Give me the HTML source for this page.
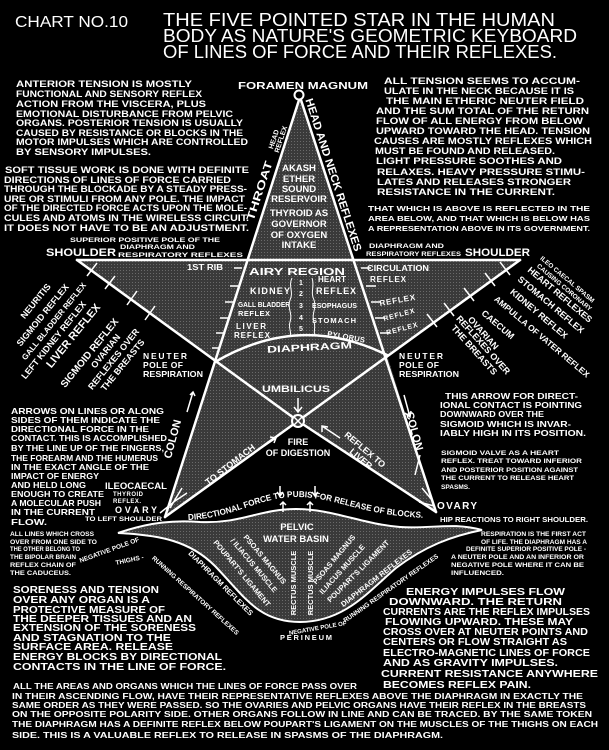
<!DOCTYPE html>
<html><head><meta charset="utf-8"><style>
html,body{margin:0;padding:0;background:#000;}
svg{display:block;}
text{fill:#fff;font-family:"Liberation Sans",sans-serif;font-weight:bold;}
.t{font-weight:normal;}
</style></head><body>
<svg width="609" height="750" viewBox="0 0 609 750" xmlns="http://www.w3.org/2000/svg">
<rect width="609" height="750" fill="#000"/>
<defs>
<pattern id="h" width="3" height="3" patternUnits="userSpaceOnUse"><rect width="3" height="3" fill="#3a3a3a"/><rect width="1" height="1" fill="#6a6a6a"/></pattern>
<path id="df" d="M188,520 C235,518 258,497 297,497 C336,497 362,516 428,518"/>
</defs>

<!-- Title -->
<text class="t" x="15" y="27" font-size="16" textLength="113" lengthAdjust="spacingAndGlyphs">CHART NO.10</text>
<text class="t" x="163" y="26" font-size="18" textLength="392" lengthAdjust="spacingAndGlyphs">THE FIVE POINTED STAR IN THE HUMAN</text>
<text class="t" x="163" y="42" font-size="18" textLength="414" lengthAdjust="spacingAndGlyphs">BODY AS NATURE'S GEOMETRIC KEYBOARD</text>
<text class="t" x="163" y="58" font-size="18" textLength="394" lengthAdjust="spacingAndGlyphs">OF LINES OF FORCE AND THEIR REFLEXES.</text>

<!-- Star fill -->
<polygon points="300,100 355,261 520,260 387,355 436,512 298,421 165,517 215,362 77,260 248,261" fill="url(#h)"/>
<!-- pelvic basin -->
<path d="M118,533 C150,522 175,520 200,522 C240,524 260,509 296,509 C332,509 362,524 400,527 C432,529 452,522 482,530 C452,536 425,546 396,568 C370,590 345,622 300,622 C258,622 244,596 215,566 C190,541 160,535 118,533 Z" fill="url(#h)" stroke="#fff" stroke-width="2"/>

<g stroke="#fff" stroke-width="2.5" fill="none" stroke-linecap="round">
<line x1="299" y1="100" x2="165" y2="517"/>
<line x1="301" y1="100" x2="436" y2="512"/>
<line x1="77" y1="260" x2="520" y2="260"/>
<polyline points="77,260 298,421 436,512"/>
<polyline points="520,260 298,421 165,517"/>
<path d="M215,362 Q300,312 387,355"/>
<circle cx="299" cy="95" r="4.5" stroke-width="2" fill="#000"/>
<circle cx="298" cy="421" r="6" stroke-width="2" fill="#3a3a3a"/>
<line x1="294" y1="417" x2="302" y2="425" stroke-width="1.5"/>
<line x1="302" y1="417" x2="294" y2="425" stroke-width="1.5"/>
</g>
<!-- ticks -->
<g stroke="#fff" stroke-width="1.5">
<line x1="87" y1="276" x2="97" y2="263"/><line x1="105" y1="289" x2="115" y2="276"/>
<line x1="127" y1="305" x2="137" y2="291"/><line x1="145" y1="320" x2="155" y2="306"/>
<line x1="500" y1="262" x2="510" y2="275"/><line x1="485" y1="273" x2="495" y2="286"/>
<line x1="464" y1="288" x2="474" y2="301"/><line x1="444" y1="303" x2="454" y2="316"/>
<line x1="427" y1="314" x2="437" y2="327"/>
<path d="M242,268 h-8 M238,286 h-8 M233,302 h-8 M228,318 h-8 M224,333 h-8 M220,348 h-8" />
<path d="M361,268 h10 M366,286 h10 M371,302 h10 M375,318 h10 M380,333 h10" />
<path d="M292,278 c-4,8 2,14 -2,22 c-3,8 3,14 0,22 c-2,6 2,10 0,14 M312,278 c3,8 -2,14 2,22 c3,8 -3,14 0,22 c2,6 -1,10 1,14" fill="none" stroke-width="1"/>
</g>
<!-- arrows -->
<g stroke="#fff" stroke-width="1.5" fill="none">
<path d="M298,398 v14 M294,407 l4,5 4,-5"/>
<path d="M187,412 l6,-20 M190,395 l3,-3 2,4"/>
<path d="M404,395 l6,22 M405,413 l5,4 1,-6"/>
<path d="M258,450 l18,-12 M270,437 l6,1 -2,5"/>
<path d="M340,438 l-18,-12 M322,432 l0,-6 6,1"/>
<path d="M280,486 v10 M277,492 l3,4 3,-4 M315,486 v10 M312,492 l3,4 3,-4"/>
<path d="M283,512 v-10 M280,505 l3,-3 3,3 M310,512 v-10 M307,505 l3,-3 3,3"/>
<path d="M420,455 l-5,20"/>
<path d="M160,513 l15,-12 M170,508 l12,-20 M175,501 l12,-8"/>
<path d="M432,500 l-10,-12 M434,506 l-15,-4"/>
</g>

<!-- Left paragraph 1 -->
<g font-size="9.5">
<text x="16" y="87" textLength="176" lengthAdjust="spacingAndGlyphs">ANTERIOR TENSION IS MOSTLY</text>
<text x="16" y="97" textLength="186" lengthAdjust="spacingAndGlyphs">FUNCTIONAL AND SENSORY REFLEX</text>
<text x="16" y="107" textLength="190" lengthAdjust="spacingAndGlyphs">ACTION FROM THE VISCERA, PLUS</text>
<text x="16" y="117" textLength="217" lengthAdjust="spacingAndGlyphs">EMOTIONAL DISTURBANCE FROM PELVIC</text>
<text x="16" y="126" textLength="227" lengthAdjust="spacingAndGlyphs">ORGANS. POSTERIOR TENSION IS USUALLY</text>
<text x="16" y="136" textLength="227" lengthAdjust="spacingAndGlyphs">CAUSED BY RESISTANCE OR BLOCKS IN THE</text>
<text x="16" y="145" textLength="232" lengthAdjust="spacingAndGlyphs">MOTOR IMPULSES WHICH ARE CONTROLLED</text>
<text x="16" y="155" textLength="135" lengthAdjust="spacingAndGlyphs">BY SENSORY IMPULSES.</text>

<text x="5" y="173" textLength="244" lengthAdjust="spacingAndGlyphs">SOFT TISSUE WORK IS DONE WITH DEFINITE</text>
<text x="4" y="183" textLength="227" lengthAdjust="spacingAndGlyphs">DIRECTIONS OF LINES OF FORCE CARRIED</text>
<text x="4" y="192" textLength="243" lengthAdjust="spacingAndGlyphs">THROUGH THE BLOCKADE BY A STEADY PRESS-</text>
<text x="4" y="202" textLength="241" lengthAdjust="spacingAndGlyphs">URE OR STIMULI FROM ANY POLE. THE IMPACT</text>
<text x="4" y="211" textLength="243" lengthAdjust="spacingAndGlyphs">OF THE DIRECTED FORCE ACTS UPON THE MOLE-</text>
<text x="4" y="221" textLength="245" lengthAdjust="spacingAndGlyphs">CULES AND ATOMS IN THE WIRELESS CIRCUIT.</text>
<text x="4" y="231" textLength="245" lengthAdjust="spacingAndGlyphs">IT DOES NOT HAVE TO BE AN ADJUSTMENT.</text>
</g>

<!-- Right paragraph -->
<g font-size="9.5">
<text x="384" y="84" textLength="196" lengthAdjust="spacingAndGlyphs">ALL TENSION SEEMS TO ACCUM-</text>
<text x="384" y="94" textLength="190" lengthAdjust="spacingAndGlyphs">ULATE IN THE NECK BECAUSE IT IS</text>
<text x="386" y="104" textLength="198" lengthAdjust="spacingAndGlyphs">THE MAIN ETHERIC NEUTER FIELD</text>
<text x="376" y="114" textLength="213" lengthAdjust="spacingAndGlyphs">AND THE SUM TOTAL OF THE RETURN</text>
<text x="376" y="124" textLength="207" lengthAdjust="spacingAndGlyphs">FLOW OF ALL ENERGY FROM BELOW</text>
<text x="376" y="134" textLength="214" lengthAdjust="spacingAndGlyphs">UPWARD TOWARD THE HEAD. TENSION</text>
<text x="374" y="144" textLength="218" lengthAdjust="spacingAndGlyphs">CAUSES ARE MOSTLY REFLEXES WHICH</text>
<text x="375" y="154" textLength="180" lengthAdjust="spacingAndGlyphs">MUST BE FOUND AND RELEASED.</text>
<text x="376" y="164" textLength="186" lengthAdjust="spacingAndGlyphs">LIGHT PRESSURE SOOTHES AND</text>
<text x="377" y="175" textLength="208" lengthAdjust="spacingAndGlyphs">RELAXES. HEAVY PRESSURE STIMU-</text>
<text x="377" y="185" textLength="194" lengthAdjust="spacingAndGlyphs">LATES AND RELEASES STRONGER</text>
<text x="377" y="195" textLength="178" lengthAdjust="spacingAndGlyphs">RESISTANCE IN THE CURRENT.</text>
</g>
<g font-size="7.5">
<text x="368" y="211" textLength="222" lengthAdjust="spacingAndGlyphs">THAT WHICH IS ABOVE IS REFLECTED IN THE</text>
<text x="368" y="221" textLength="222" lengthAdjust="spacingAndGlyphs">AREA BELOW, AND THAT WHICH IS BELOW HAS</text>
<text x="368" y="231" textLength="222" lengthAdjust="spacingAndGlyphs">A REPRESENTATION ABOVE IN ITS GOVERNMENT.</text>
</g>

<!-- head triangle -->
<text x="238" y="89" font-size="10" textLength="130" lengthAdjust="spacingAndGlyphs">FORAMEN MAGNUM</text>
<g font-size="9.5" text-anchor="middle">
<text x="299" y="171">AKASH</text><text x="299" y="182">ETHER</text><text x="299" y="192">SOUND</text><text x="299" y="202">RESERVOIR</text>
<text x="299" y="216">THYROID AS</text><text x="299" y="227">GOVERNOR</text><text x="299" y="238">OF OXYGEN</text><text x="299" y="248">INTAKE</text>
</g>
<g font-size="7" text-anchor="middle">
<text transform="translate(276,140) rotate(-72)">HEAD</text>
<text transform="translate(283,140) rotate(-72)">REFLEX</text>
</g>
<text transform="translate(263,192) rotate(-72)" font-size="11" text-anchor="middle" textLength="62" lengthAdjust="spacingAndGlyphs">THROAT</text>
<text transform="translate(330,176) rotate(72)" font-size="11" text-anchor="middle" textLength="160" lengthAdjust="spacingAndGlyphs">HEAD AND NECK REFLEXES</text>

<!-- shoulder area labels -->
<g font-size="6.5">
<text x="70" y="242" textLength="150" lengthAdjust="spacingAndGlyphs">SUPERIOR POSITIVE POLE OF THE</text>
<text x="120" y="249" textLength="75" lengthAdjust="spacingAndGlyphs">DIAPHRAGM AND</text>
<text x="118" y="257" textLength="125" lengthAdjust="spacingAndGlyphs">RESPIRATORY REFLEXES</text>
<text x="369" y="248" textLength="75" lengthAdjust="spacingAndGlyphs">DIAPHRAGM AND</text>
<text x="366" y="256" textLength="95" lengthAdjust="spacingAndGlyphs">RESPIRATORY REFLEXES</text>
</g>
<text x="46" y="256" font-size="11" textLength="70" lengthAdjust="spacingAndGlyphs">SHOULDER</text>
<text x="465" y="256" font-size="11" textLength="65" lengthAdjust="spacingAndGlyphs">SHOULDER</text>

<!-- inner chest labels -->
<g font-size="8">
<text x="187" y="270" textLength="36" lengthAdjust="spacingAndGlyphs">1ST RIB</text>
<text x="249" y="275" font-size="10" textLength="96" lengthAdjust="spacingAndGlyphs">AIRY REGION</text>
<text x="318" y="282" textLength="28">HEART</text>
<text x="250" y="294" font-size="9" textLength="40">KIDNEY</text>
<text x="316" y="294" font-size="9" textLength="40">REFLEX</text>
<text x="238" y="307" font-size="7" textLength="52" lengthAdjust="spacingAndGlyphs">GALL BLADDER</text>
<text x="238" y="316" font-size="7.5" textLength="32">REFLEX</text>
<text x="312" y="308" font-size="7" textLength="45" lengthAdjust="spacingAndGlyphs">ESOPHAGUS</text>
<text x="312" y="323" font-size="7.5" textLength="44">STOMACH</text>
<text x="236" y="329" textLength="30">LIVER</text>
<text x="234" y="338" textLength="36">REFLEX</text>
<text x="327" y="336" font-size="7.5" transform="rotate(10,327,336)" textLength="38">PYLORUS</text>
<text x="367" y="271" textLength="62" lengthAdjust="spacingAndGlyphs">CIRCULATION</text>
<text x="370" y="282" textLength="36">REFLEX</text>
<text x="380" y="306" transform="rotate(-10,380,306)" textLength="36">REFLEX</text>
<text x="384" y="321" transform="rotate(-15,384,321)" font-size="7" textLength="32">REFLEX</text>
<text x="387" y="335" transform="rotate(-15,387,335)" font-size="7" textLength="32">REFLEX</text>
</g>
<g font-size="7" text-anchor="middle"><text x="301" y="285">1</text><text x="301" y="296">2</text><text x="301" y="308">3</text><text x="301" y="320">4</text><text x="301" y="331">5</text></g>
<text x="267" y="351" font-size="9.5" transform="rotate(-3,300,348)" textLength="85" lengthAdjust="spacingAndGlyphs">DIAPHRAGM</text>

<g font-size="8.5">
<text x="143" y="359" textLength="44">NEUTER</text>
<text x="143" y="368" textLength="40">POLE OF</text>
<text x="143" y="377" textLength="60" lengthAdjust="spacingAndGlyphs">RESPIRATION</text>
<text x="399" y="359" textLength="44">NEUTER</text>
<text x="399" y="368" textLength="40">POLE OF</text>
<text x="399" y="377" textLength="60" lengthAdjust="spacingAndGlyphs">RESPIRATION</text>
</g>
<text x="262" y="392" font-size="9" textLength="68" lengthAdjust="spacingAndGlyphs">UMBILICUS</text>
<g font-size="9" text-anchor="middle"><text x="298" y="445">FIRE</text><text x="298" y="456">OF DIGESTION</text></g>
<text transform="translate(176,440) rotate(-75)" font-size="11" text-anchor="middle">COLON</text>
<text transform="translate(411,432) rotate(75)" font-size="11" text-anchor="middle">COLON</text>
<text transform="translate(232,467) rotate(-38)" font-size="9" text-anchor="middle">TO STOMACH</text>
<g font-size="9" text-anchor="middle">
<text transform="translate(363,452) rotate(40)">REFLEX TO</text>
<text transform="translate(359,461) rotate(40)">LIVER</text>
</g>

<!-- left arm labels -->
<g text-anchor="middle" font-size="9">
<text transform="translate(38,303) rotate(-51)">NEURITIS</text>
<text transform="translate(45,317) rotate(-51)">SIGMOID REFLEX</text>
<text transform="translate(56,323) rotate(-51)" font-size="8">GALL BLADDER REFLEX</text>
<text transform="translate(56,342) rotate(-51)">LEFT KIDNEY REFLEX</text>
<text transform="translate(76,338) rotate(-51)" font-size="11">LIVER REFLEX</text>
<text transform="translate(92,355) rotate(-51)" font-size="10">SIGMOID REFLEX</text>
<text transform="translate(108,353) rotate(-51)">OVARIAN</text>
<text transform="translate(116,361) rotate(-51)">REFLEXES OVER</text>
<text transform="translate(125,367) rotate(-51)">THE BREASTS</text>
</g>
<!-- right arm labels -->
<g text-anchor="middle" font-size="9">
<text transform="translate(566,281) rotate(40)" font-size="6.5">ILEO CAECAL SPASM</text>
<text transform="translate(563,289) rotate(40)" font-size="6.5">CAUSING CORONARY</text>
<text transform="translate(558,297) rotate(40)">HEART REFLEXES</text>
<text transform="translate(549,307) rotate(40)">STOMACH REFLEX</text>
<text transform="translate(537,316) rotate(40)">KIDNEY REFLEX</text>
<text transform="translate(540,339) rotate(40)" font-size="8.5">AMPULLA OF VATER REFLEX</text>
<text transform="translate(496,327) rotate(40)">CAECUM</text>
<text transform="translate(481,335) rotate(48)">OVARIAN</text>
<text transform="translate(481,347) rotate(48)">REFLEXES OVER</text>
<text transform="translate(472,352) rotate(48)">THE BREASTS</text>
</g>

<!-- left middle text -->
<g font-size="8.5">
<text x="11" y="414" textLength="153" lengthAdjust="spacingAndGlyphs">ARROWS ON LINES OR ALONG</text>
<text x="11" y="423" textLength="149" lengthAdjust="spacingAndGlyphs">SIDES OF THEM INDICATE THE</text>
<text x="11" y="432" textLength="138" lengthAdjust="spacingAndGlyphs">DIRECTIONAL FORCE IN THE</text>
<text x="11" y="441" textLength="156" lengthAdjust="spacingAndGlyphs">CONTACT. THIS IS ACCOMPLISHED</text>
<text x="11" y="451" textLength="153" lengthAdjust="spacingAndGlyphs">BY THE LINE UP OF THE FINGERS,</text>
<text x="11" y="461" textLength="147" lengthAdjust="spacingAndGlyphs">THE FOREARM AND THE HUMERUS</text>
<text x="11" y="470" textLength="138" lengthAdjust="spacingAndGlyphs">IN THE EXACT ANGLE OF THE</text>
<text x="11" y="479" textLength="88" lengthAdjust="spacingAndGlyphs">IMPACT OF ENERGY</text>
<text x="11" y="488" textLength="75" lengthAdjust="spacingAndGlyphs">AND HELD LONG</text>
<text x="11" y="497" textLength="93" lengthAdjust="spacingAndGlyphs">ENOUGH TO CREATE</text>
<text x="11" y="506" textLength="90" lengthAdjust="spacingAndGlyphs">A MOLECULAR PUSH</text>
<text x="11" y="515" textLength="84" lengthAdjust="spacingAndGlyphs">IN THE CURRENT</text>
<text x="11" y="525" textLength="36" lengthAdjust="spacingAndGlyphs">FLOW.</text>
</g>
<text x="105" y="489" font-size="9" textLength="62" lengthAdjust="spacingAndGlyphs">ILEOCAECAL</text>
<text x="113" y="496" font-size="6" textLength="30">THYROID</text>
<text x="113" y="503" font-size="6" textLength="28">REFLEX.</text>
<text x="115" y="513" font-size="9" textLength="42">OVARY</text>
<text x="85" y="521" font-size="6.5" textLength="77" lengthAdjust="spacingAndGlyphs">TO LEFT SHOULDER</text>

<!-- right middle text -->
<g font-size="8">
<text x="445" y="399" textLength="133" lengthAdjust="spacingAndGlyphs">THIS ARROW FOR DIRECT-</text>
<text x="440" y="408" textLength="142" lengthAdjust="spacingAndGlyphs">IONAL CONTACT IS POINTING</text>
<text x="440" y="417" textLength="104" lengthAdjust="spacingAndGlyphs">DOWNWARD OVER THE</text>
<text x="440" y="427" textLength="131" lengthAdjust="spacingAndGlyphs">SIGMOID WHICH IS INVAR-</text>
<text x="440" y="436" textLength="146" lengthAdjust="spacingAndGlyphs">IABLY HIGH IN ITS POSITION.</text>
</g>
<g font-size="6.8">
<text x="441" y="455" textLength="118" lengthAdjust="spacingAndGlyphs">SIGMOID VALVE AS A HEART</text>
<text x="441" y="463" textLength="141" lengthAdjust="spacingAndGlyphs">REFLEX. TREAT TOWARD INFERIOR</text>
<text x="441" y="472" textLength="137" lengthAdjust="spacingAndGlyphs">AND POSTERIOR POSITION AGAINST</text>
<text x="441" y="480" textLength="133" lengthAdjust="spacingAndGlyphs">THE CURRENT TO RELEASE HEART</text>
<text x="441" y="489" textLength="29" lengthAdjust="spacingAndGlyphs">SPASMS.</text>
</g>
<text x="437" y="509" font-size="10" textLength="40">OVARY</text>
<text x="440" y="522" font-size="7.5" textLength="148" lengthAdjust="spacingAndGlyphs">HIP REACTIONS TO RIGHT SHOULDER.</text>

<!-- basin labels -->
<text font-size="8.5"><textPath href="#df" textLength="240" lengthAdjust="spacingAndGlyphs">DIRECTIONAL FORCE TO PUBIS FOR RELEASE OF BLOCKS.</textPath></text>
<g font-size="9.5" text-anchor="middle"><text x="297" y="530">PELVIC</text><text x="296" y="542">WATER BASIN</text></g>
<g font-size="7.5" text-anchor="middle">
<text transform="translate(296,583) rotate(-90)">RECTUS MUSCLE</text>
<text transform="translate(313,583) rotate(-90)">RECTUS MUSCLE</text>
<text transform="translate(263,561) rotate(50)">PSOAS MAGNUS</text>
<text transform="translate(252,567) rotate(50)">/ ILIACUS MUSCLE</text>
<text transform="translate(240,575) rotate(50)">POUPART'S LIGAMENT</text>
<text transform="translate(219,585) rotate(45)">DIAPHRAGM REFLEXES</text>
<text transform="translate(194,597) rotate(42)" font-size="6.5">RUNNING RESPIRATORY REFLEXES</text>
<text transform="translate(336,561) rotate(-50)">PSOAS MAGNUS</text>
<text transform="translate(344,571) rotate(-48)">ILIACUS MUSCLE</text>
<text transform="translate(360,573) rotate(-45)">POUPART'S LIGAMENT</text>
<text transform="translate(378,580) rotate(-38)">DIAPHRAGM REFLEXES</text>
<text transform="translate(392,590) rotate(-35)" font-size="6.5">RUNNING RESPIRATORY REFLEXES</text>
<text transform="translate(110,552) rotate(-20)" font-size="6.5">NEGATIVE POLE OF</text>
<text transform="translate(130,562) rotate(-12)" font-size="6.5">THIGHS -</text>
<text transform="translate(318,630) rotate(-10)" font-size="6">NEGATIVE POLE OF</text>
</g>
<text x="280" y="640" font-size="7.5" textLength="52">PERINEUM</text>

<!-- small text blocks -->
<g font-size="6">
<text x="10" y="536" textLength="84" lengthAdjust="spacingAndGlyphs">ALL LINES WHICH CROSS</text>
<text x="10" y="544" textLength="87" lengthAdjust="spacingAndGlyphs">OVER FROM ONE SIDE TO</text>
<text x="10" y="551" textLength="70" lengthAdjust="spacingAndGlyphs">THE OTHER BELONG TO</text>
<text x="10" y="559" textLength="66" lengthAdjust="spacingAndGlyphs">THE BIPOLAR BRAIN</text>
<text x="10" y="567" textLength="66" lengthAdjust="spacingAndGlyphs">REFLEX CHAIN OF</text>
<text x="10" y="575" textLength="61" lengthAdjust="spacingAndGlyphs">THE CADUCEUS.</text>
<text x="481" y="536" textLength="105" lengthAdjust="spacingAndGlyphs">RESPIRATION IS THE FIRST ACT</text>
<text x="481" y="544" textLength="106" lengthAdjust="spacingAndGlyphs">OF LIFE. THE DIAPHRAGM HAS A</text>
<text x="466" y="551" textLength="120" lengthAdjust="spacingAndGlyphs">DEFINITE SUPERIOR POSITIVE POLE -</text>
<text x="451" y="559" textLength="133" lengthAdjust="spacingAndGlyphs">A NEUTER POLE AND AN INFERIOR OR</text>
<text x="451" y="567" textLength="133" lengthAdjust="spacingAndGlyphs">NEGATIVE POLE WHERE IT CAN BE</text>
<text x="451" y="575" textLength="53" lengthAdjust="spacingAndGlyphs">INFLUENCED.</text>
</g>

<g font-size="10.5" class="t">
<text x="13" y="593" textLength="146" lengthAdjust="spacingAndGlyphs">SORENESS AND TENSION</text>
<text x="13" y="603" textLength="137" lengthAdjust="spacingAndGlyphs">OVER ANY ORGAN IS A</text>
<text x="13" y="613" textLength="152" lengthAdjust="spacingAndGlyphs">PROTECTIVE MEASURE OF</text>
<text x="13" y="622" textLength="179" lengthAdjust="spacingAndGlyphs">THE DEEPER TISSUES AND AN</text>
<text x="13" y="631" textLength="183" lengthAdjust="spacingAndGlyphs">EXTENSION OF THE SORENESS</text>
<text x="13" y="641" textLength="158" lengthAdjust="spacingAndGlyphs">AND STAGNATION TO THE</text>
<text x="13" y="650" textLength="160" lengthAdjust="spacingAndGlyphs">SURFACE AREA. RELEASE</text>
<text x="13" y="660" textLength="209" lengthAdjust="spacingAndGlyphs">ENERGY BLOCKS BY DIRECTIONAL</text>
<text x="13" y="670" textLength="213" lengthAdjust="spacingAndGlyphs">CONTACTS IN THE LINE OF FORCE.</text>
</g>
<g font-size="10.5" class="t">
<text x="406" y="595" textLength="159" lengthAdjust="spacingAndGlyphs">ENERGY IMPULSES FLOW</text>
<text x="389" y="605" textLength="173" lengthAdjust="spacingAndGlyphs">DOWNWARD. THE RETURN</text>
<text x="383" y="615" textLength="207" lengthAdjust="spacingAndGlyphs">CURRENTS ARE THE REFLEX IMPULSES</text>
<text x="385" y="625" textLength="188" lengthAdjust="spacingAndGlyphs">FLOWING UPWARD. THESE MAY</text>
<text x="383" y="635" textLength="205" lengthAdjust="spacingAndGlyphs">CROSS OVER AT NEUTER POINTS AND</text>
<text x="383" y="645" textLength="184" lengthAdjust="spacingAndGlyphs">CENTERS OR FLOW STRAIGHT AS</text>
<text x="383" y="656" textLength="207" lengthAdjust="spacingAndGlyphs">ELECTRO-MAGNETIC LINES OF FORCE</text>
<text x="383" y="666" textLength="175" lengthAdjust="spacingAndGlyphs">AND AS GRAVITY IMPULSES.</text>
<text x="381" y="677" textLength="217" lengthAdjust="spacingAndGlyphs">CURRENT RESISTANCE ANYWHERE</text>
<text x="383" y="688" textLength="148" lengthAdjust="spacingAndGlyphs">BECOMES REFLEX PAIN.</text>
</g>

<g font-size="8">
<text x="13" y="689" textLength="344" lengthAdjust="spacingAndGlyphs">ALL THE AREAS AND ORGANS WHICH THE LINES OF FORCE PASS OVER</text>
<text x="12" y="699" textLength="571" lengthAdjust="spacingAndGlyphs">IN THEIR ASCENDING FLOW, HAVE THEIR REPRESENTATIVE REFLEXES ABOVE THE DIAPHRAGM IN EXACTLY THE</text>
<text x="12" y="708" textLength="574" lengthAdjust="spacingAndGlyphs">SAME ORDER AS THEY WERE PASSED. SO THE OVARIES AND PELVIC ORGANS HAVE THEIR REFLEX IN THE BREASTS</text>
<text x="12" y="717" textLength="580" lengthAdjust="spacingAndGlyphs">ON THE OPPOSITE POLARITY SIDE. OTHER ORGANS FOLLOW IN LINE AND CAN BE TRACED. BY THE SAME TOKEN</text>
<text x="12" y="727" textLength="586" lengthAdjust="spacingAndGlyphs">THE DIAPHRAGM HAS A DEFINITE REFLEX BELOW POUPART'S LIGAMENT ON THE MUSCLES OF THE THIGHS ON EACH</text>
<text x="12" y="738" textLength="431" lengthAdjust="spacingAndGlyphs">SIDE. THIS IS A VALUABLE REFLEX TO RELEASE IN SPASMS OF THE DIAPHRAGM.</text>
</g>
</svg>
</body></html>
